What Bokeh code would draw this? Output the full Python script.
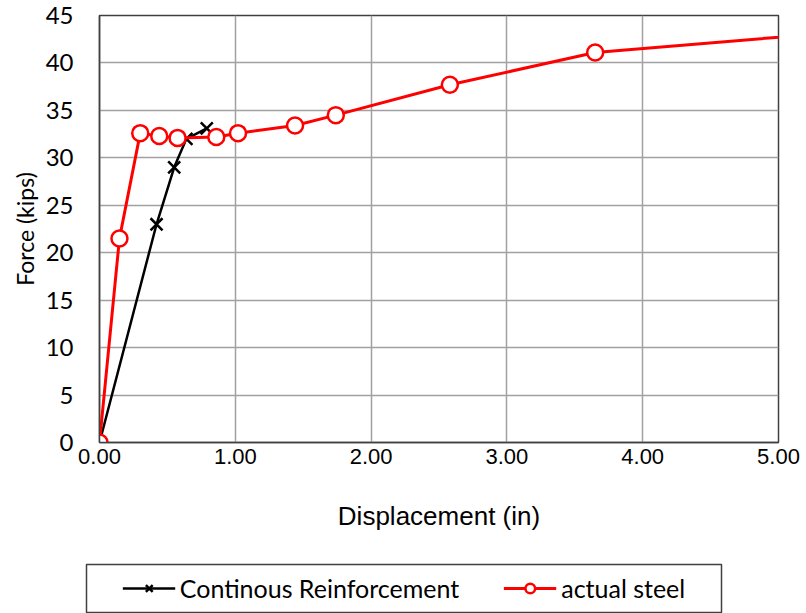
from bokeh.plotting import figure
from bokeh.layouts import column
from bokeh.models import Range1d, FixedTicker, Legend, LegendItem, NumeralTickFormatter
from bokeh.embed import file_html
from bokeh.resources import INLINE

# Data
cont_disp = [0.0, 0.42, 0.55, 0.64, 0.79]
cont_force = [0.0, 23.0, 29.0, 32.0, 33.1]

steel_disp = [0.0, 0.147, 0.30, 0.44, 0.575, 0.86, 1.02, 1.44, 1.74, 2.58, 3.65, 6.0]
steel_force = [0.0, 21.5, 32.6, 32.3, 32.1, 32.2, 32.6, 33.4, 34.5, 37.7, 41.1, 43.9]

x_ticks = [0, 1, 2, 3, 4, 5]
y_ticks = [0, 5, 10, 15, 20, 25, 30, 35, 40, 45]

series_names = ["Continous Reinforcement", "actual steel"]

p = figure(width=806, height=545, output_backend="svg", toolbar_location=None,
           x_range=Range1d(0, 5), y_range=Range1d(0, 45), frame_align=False,
           min_border_left=99, min_border_right=28, min_border_top=15, min_border_bottom=103)

p.outline_line_color = "#404040"
p.outline_line_width = 1.5
p.background_fill_color = "white"
p.border_fill_color = "white"

for g in (p.xgrid, p.ygrid):
    g.grid_line_color = "#a0a0a0"
    g.grid_line_width = 1.5
p.xaxis.ticker = FixedTicker(ticks=x_ticks)
p.yaxis.ticker = FixedTicker(ticks=y_ticks)
p.xgrid.ticker = FixedTicker(ticks=x_ticks)
p.ygrid.ticker = FixedTicker(ticks=y_ticks)
p.xaxis.formatter = NumeralTickFormatter(format="0.00")

for ax in (p.xaxis, p.yaxis):
    ax.major_tick_out = 0
    ax.major_tick_in = 0
    ax.minor_tick_out = 0
    ax.minor_tick_in = 0
    ax.axis_line_color = "#404040"
    ax.axis_line_width = 1.5
    ax.major_label_text_color = "black"
    ax.axis_label_text_color = "black"
    ax.axis_label_text_font_style = "normal"

p.xaxis.major_label_text_font = "Liberation Sans"
p.xaxis.major_label_text_font_size = "22px"
p.xaxis.major_label_standoff = 6
p.xaxis.axis_label = "Displacement (in)"
p.xaxis.axis_label_text_font = "Liberation Sans"
p.xaxis.axis_label_text_font_size = "26px"
p.xaxis.axis_label_standoff = 34

p.yaxis.major_label_text_font = "Lato"
p.yaxis.major_label_text_font_size = "24px"
p.yaxis.major_label_standoff = 26
p.yaxis.axis_label = "Force (kips)"
p.yaxis.axis_label_text_font = "Lato"
p.yaxis.axis_label_text_font_size = "23px"
p.yaxis.axis_label_standoff = 4

line_cont = dict(line_color="black", line_width=2.5)
mark_cont = dict(marker="x", size=17, line_color="black", line_width=2.5)
line_steel = dict(line_color="red", line_width=3)
mark_steel = dict(marker="circle", size=16, line_color="red", fill_color="white", line_width=2.5)

p.line(cont_disp, cont_force, **line_cont)
p.scatter(cont_disp, cont_force, **mark_cont)
p.line(steel_disp, steel_force, **line_steel)
p.scatter(steel_disp, steel_force, **mark_steel)

# Legend strip below the chart (its frame outline is the legend box)
q = figure(width=806, height=68, output_backend="svg", toolbar_location=None,
           x_axis_type=None, y_axis_type=None, frame_align=False,
           x_range=Range1d(100, 101), y_range=Range1d(100, 101),
           min_border_left=86, min_border_right=85, min_border_top=19, min_border_bottom=1)
q.grid.visible = False
q.outline_line_color = "#404040"
q.outline_line_width = 1.5
q.border_fill_color = "white"

lc = q.line(cont_disp, cont_force, **line_cont)
mc = q.scatter(cont_disp, cont_force, **mark_cont)
ls = q.line(steel_disp, steel_force, **line_steel)
ms = q.scatter(steel_disp, steel_force, **mark_steel)

legend = Legend(items=[
    LegendItem(label=series_names[0], renderers=[lc, mc]),
    LegendItem(label=series_names[1], renderers=[ls, ms]),
], orientation="horizontal", location="center")
legend.label_text_font = "Lato"
legend.label_text_font_size = "25px"
legend.label_text_color = "black"
legend.glyph_width = 53
legend.glyph_height = 24
legend.label_standoff = 5
legend.spacing = 44
legend.padding = 0
legend.margin = 0
legend.border_line_alpha = 0
legend.background_fill_alpha = 0
q.add_layout(legend, "center")

layout = column(p, q, spacing=0)
open("out.html", "w").write(file_html(layout, INLINE))
